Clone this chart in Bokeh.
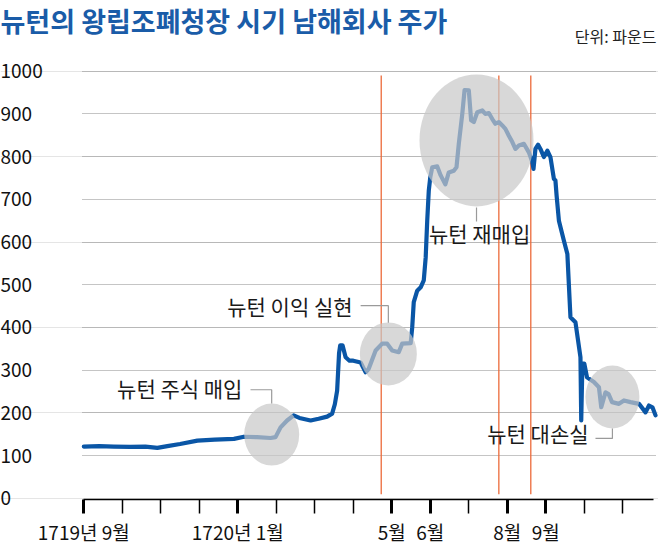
from bokeh.plotting import figure
from bokeh.models import Range1d, FixedTicker, Grid, Label
from bokeh.core.properties import value
from bokeh.embed import file_html
from bokeh.resources import INLINE

# ---------------- data ----------------
# x = months since September 1719 (0 = 1719-09, 4 = 1720-01, 8 = 1720-05 ...)
month = [0, 0.4, 0.78, 1.2, 1.6, 1.91, 2.17, 2.5, 2.95, 3.4, 3.9, 4.16, 4.5, 4.85,
         4.98, 5.11, 5.28, 5.45, 5.6, 5.89, 6.1, 6.32, 6.45, 6.52, 6.58, 6.63, 6.66,
         6.72, 6.8, 6.9, 7.0, 7.19, 7.32, 7.4, 7.58, 7.75, 7.88, 8.01, 8.18, 8.27,
         8.49, 8.53, 8.57, 8.66, 8.75, 8.83, 8.88, 8.92, 8.96, 9.0, 9.05, 9.18, 9.27,
         9.39, 9.48, 9.61, 9.68, 9.74, 9.83, 9.89, 10.0, 10.06, 10.13, 10.22, 10.35,
         10.43, 10.52, 10.61, 10.69, 10.78, 10.87, 10.95, 11.04, 11.13, 11.21, 11.3,
         11.43, 11.56, 11.65, 11.68, 11.73, 11.8, 11.86, 11.95, 12.04, 12.12, 12.21,
         12.25, 12.28, 12.34, 12.47, 12.56, 12.64, 12.77, 12.9, 12.92, 12.95, 13.0,
         13.07, 13.25, 13.38, 13.44, 13.55, 13.63, 13.72, 13.9, 14.03, 14.2, 14.42,
         14.59, 14.68, 14.77, 14.85]
price = [121, 122, 121, 120, 121, 118, 122, 127, 135, 137, 139, 144, 143, 141,
         143, 166, 182, 194, 188, 182, 186, 191, 198, 220, 252, 340, 358,
         358, 330, 322, 322, 318, 295, 303, 346, 362, 362, 346, 342, 362,
         363, 400, 459, 486, 494, 510, 564, 650, 720, 752, 775, 777, 756,
         735, 763, 767, 775, 830, 900, 956, 955, 885, 881, 904, 908,
         900, 902, 888, 877, 881, 873, 865, 849, 834, 818, 826,
         830, 810, 787, 771, 818, 828, 818, 799, 814, 799, 748,
         744, 709, 650, 603, 572, 424, 412, 330, 182, 315, 315,
         283, 272, 260, 213, 248, 244, 225, 221, 229, 225, 221,
         201, 217, 213, 194]

y_ticks = [0, 100, 200, 300, 400, 500, 600, 700, 800, 900, 1000]
x_ticks_all = list(range(15))
x_ticks_labeled = [0, 4, 8, 9, 11, 12]
x_tick_labels = ["1719년 9월", "1720년 1월", "5월", "6월", "8월", "9월"]

event_month = [7.725, 10.78, 11.61]          # Newton's trades (vertical red lines)

highlight_month = [4.88, 7.91, 10.2, 13.73]
highlight_price = [149, 338, 838, 237]

annot_text = ["뉴턴 주식 매입", "뉴턴 이익 실현", "뉴턴 재매입", "뉴턴 대손실"]
annot_month = [4.12, 6.98, 10.28, 13.11]
annot_price = [257, 451, 622, 152]
leader_month = [[4.33, 4.88, 4.88], [7.19, 7.91, 7.91], [10.2, 10.2], [13.29, 13.73, 13.73]]
leader_price = [[254, 254, 222], [451, 451, 411], [681, 648], [140, 140, 163]]

title_text = "뉴턴의 왕립조폐청장 시기 남해회사 주가"
unit_text = "단위: 파운드"

# ---------------- styles ----------------
BLUE = "#0a56a6"
TITLE_BLUE = "#1a5ca8"
RED = "#ec6a3a"
KR_NAME = "Noto Sans CJK KR"
KR = value(KR_NAME)
highlight_w_px = [55, 57, 114, 54]
highlight_h_px = [62, 63, 132, 63]
event_low, event_high = 9, 990
grid_from, grid_to = -0.03, 14.87
axis_at = -3.04          # x axis sits just below the zero level

xr = Range1d(-2.164, 14.927)
yr = Range1d(-108.4, 1165.6)

p = figure(width=658, height=544, frame_width=658, frame_height=544,
           x_range=xr, y_range=yr, y_axis_location=None,
           output_backend="svg", toolbar_location=None,
           min_border_left=0, min_border_right=0, min_border_top=0, min_border_bottom=0)
p.outline_line_color = None
p.background_fill_color = "white"
p.border_fill_color = "white"
p.xgrid.visible = False

# horizontal dotted grid
grid = Grid(dimension=1, ticker=FixedTicker(ticks=y_ticks[1:]),
            grid_line_color="#8a8a8a", grid_line_dash="1 1", grid_line_width=1)
if "cross_bounds" in Grid.properties():
    grid.cross_bounds = (grid_from, grid_to)
    p.add_layout(grid)
else:
    p.segment(x0=[grid_from] * 10, x1=[grid_to] * 10, y0=y_ticks[1:], y1=y_ticks[1:],
              line_color="#8a8a8a", line_dash="1 1", line_width=1)

# x axis (kept in the "below" panel, drawn at a fixed level inside the frame)
ax = p.xaxis[0]
ax.fixed_location = axis_at
ax.ticker = FixedTicker(ticks=x_ticks_labeled,
                        minor_ticks=[t for t in x_ticks_all if t not in x_ticks_labeled])
ax.major_label_overrides = {t: s for t, s in zip(x_ticks_labeled, x_tick_labels)}
ax.bounds = (0, 14.8)
ax.axis_line_color = "black"
ax.axis_line_width = 1.5
ax.major_tick_line_color = "black"
ax.major_tick_line_width = 3
ax.major_tick_in = 0
ax.major_tick_out = 14
ax.minor_tick_line_color = "black"
ax.minor_tick_line_width = 1.5
ax.minor_tick_in = 0
ax.minor_tick_out = 14
ax.major_label_standoff = 4
ax.major_label_text_font = KR_NAME
ax.major_label_text_font_size = "19px"
ax.major_label_text_color = "#111111"

# y tick labels (left aligned at the left edge)
for t in y_ticks:
    p.add_layout(Label(x=xr.start, y=t, text=str(t), text_align="left",
                       text_baseline="middle", text_font=KR_NAME, text_font_size="19px",
                       text_color="#111111"))

# event lines
p.segment(x0=event_month, x1=event_month, y0=[event_low] * len(event_month),
          y1=[event_high] * len(event_month), line_color=RED, line_width=1.3)

# price line
p.line(month, price, line_color=BLUE, line_width=4.2, line_join="round", line_cap="round")

# highlight ellipses
p.ellipse(x=highlight_month, y=highlight_price, width=highlight_w_px, height=highlight_h_px,
          width_units="screen", height_units="screen",
          fill_color="#c8c8c8", fill_alpha=0.7, line_color=None)

# leader lines
p.multi_line(xs=leader_month, ys=leader_price, line_color="#9a9a9a", line_width=1.2)

# annotation texts
right_idx = [0, 1, 3]
p.text(x=[annot_month[i] for i in right_idx], y=[annot_price[i] for i in right_idx],
       text=[annot_text[i] for i in right_idx], text_align="right", text_baseline="middle",
       text_font=KR, text_font_size="21px", text_color="#1a1a1a")
p.text(x=[annot_month[2]], y=[annot_price[2]], text=[annot_text[2]],
       text_align="center", text_baseline="middle",
       text_font=KR, text_font_size="21px", text_color="#1a1a1a")

# title & unit
p.add_layout(Label(x=xr.start, y=yr.end, text=title_text, text_align="left",
                   text_baseline="top", text_font=KR_NAME, text_font_size="27px",
                   text_font_style="bold", text_color=TITLE_BLUE))
p.add_layout(Label(x=xr.end, y=yr.end, x_offset=-2, y_offset=-35, text=unit_text,
                   text_align="right", text_baseline="middle", text_font=KR_NAME,
                   text_font_size="16px", text_color="#222222"))

open("out.html", "w").write(file_html(p, INLINE))
